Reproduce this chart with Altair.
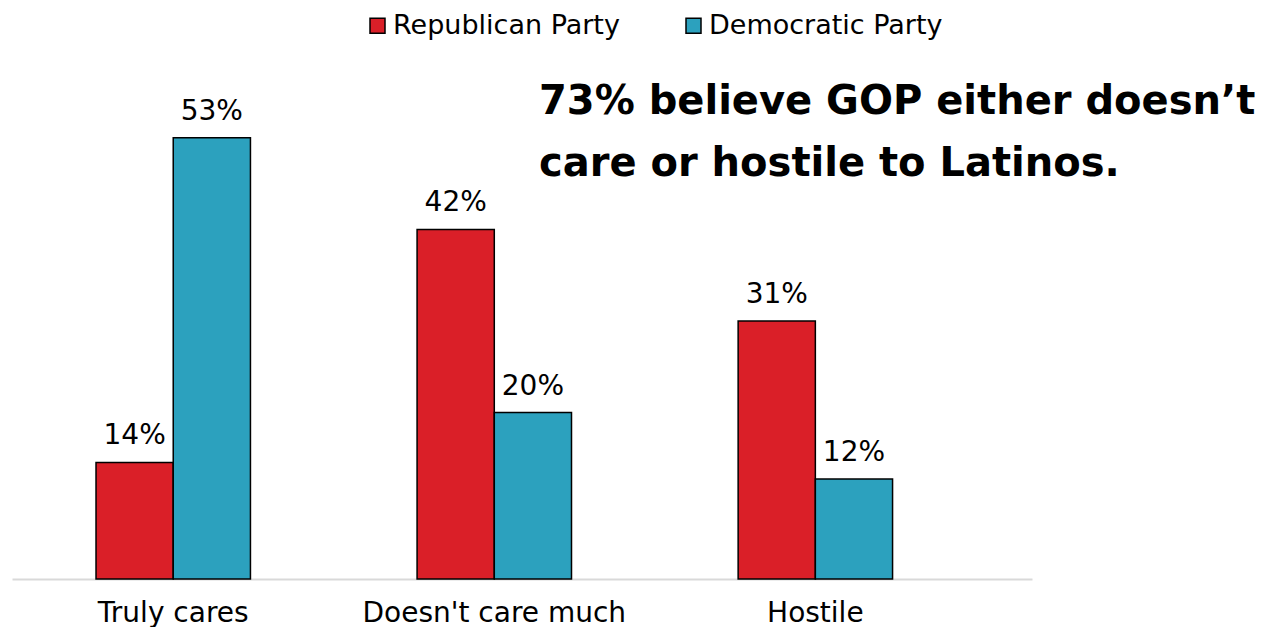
import altair as alt
import pandas as pd

categories = ["Truly cares", "Doesn't care much", "Hostile"]
parties = ["Republican Party", "Democratic Party"]
republican = [14, 42, 31]
democratic = [53, 20, 12]
colors = ["#DA1F28", "#2CA1BE"]
annotation = "73% believe GOP either doesn\u2019t\ncare or hostile to Latinos."

rows = []
for c, r, d in zip(categories, republican, democratic):
    rows.append({"category": c, "party": parties[0], "value": r, "label": f"{r}%"})
    rows.append({"category": c, "party": parties[1], "value": d, "label": f"{d}%"})
df = pd.DataFrame(rows)

FONT = "DejaVu Sans"

x = alt.X(
    "category:N",
    sort=categories,
    scale=alt.Scale(paddingInner=0.519, paddingOuter=0.348, align=0.376),
    axis=alt.Axis(
        title=None, labelAngle=0, ticks=False, labelPadding=20,
        labelFontSize=28, labelFont=FONT, labelColor="black", labelLimit=600,
        domainColor="#d9d9d9", domainWidth=2, grid=False,
    ),
)
xoff = alt.XOffset("party:N", sort=parties, scale=alt.Scale(paddingInner=0, paddingOuter=0))
y = alt.Y("value:Q", scale=alt.Scale(domain=[0, 68]), axis=None)

base = alt.Chart(df)

bars = base.mark_bar(stroke="black", strokeWidth=1.5).encode(
    x=x,
    xOffset=xoff,
    y=y,
    color=alt.Color(
        "party:N",
        sort=parties,
        scale=alt.Scale(domain=parties, range=colors),
        legend=alt.Legend(
            title=None, orient="none", legendX=352, legendY=-1,
            direction="horizontal", symbolType="square", symbolSize=225,
            symbolStrokeColor="black", symbolStrokeWidth=1.5,
            labelFontSize=27, labelFont=FONT, labelColor="black", labelLimit=600,
            labelOffset=2, columnPadding=60, padding=0,
        ),
    ),
)

labels = base.mark_text(
    dy=-18, baseline="alphabetic", fontSize=28, font=FONT, color="black"
).encode(x=x, xOffset=xoff, y=y, text="label:N")

note = alt.Chart(pd.DataFrame({"text": [annotation]})).mark_text(
    align="left", baseline="alphabetic", fontSize=40, fontWeight="bold",
    font=FONT, color="black", lineBreak="\n", lineHeight=62,
).encode(text="text:N", x=alt.value(527), y=alt.value(101))

chart = (
    alt.layer(bars, labels, note)
    .properties(
        width=1020, height=566,
        padding={"left": 4, "top": 5, "right": 223, "bottom": 48},
        autosize=alt.AutoSizeParams(type="none"),
    )
    .configure_view(stroke=None)
)

chart.save("out.html", embed_options={"renderer": "svg", "actions": False})
